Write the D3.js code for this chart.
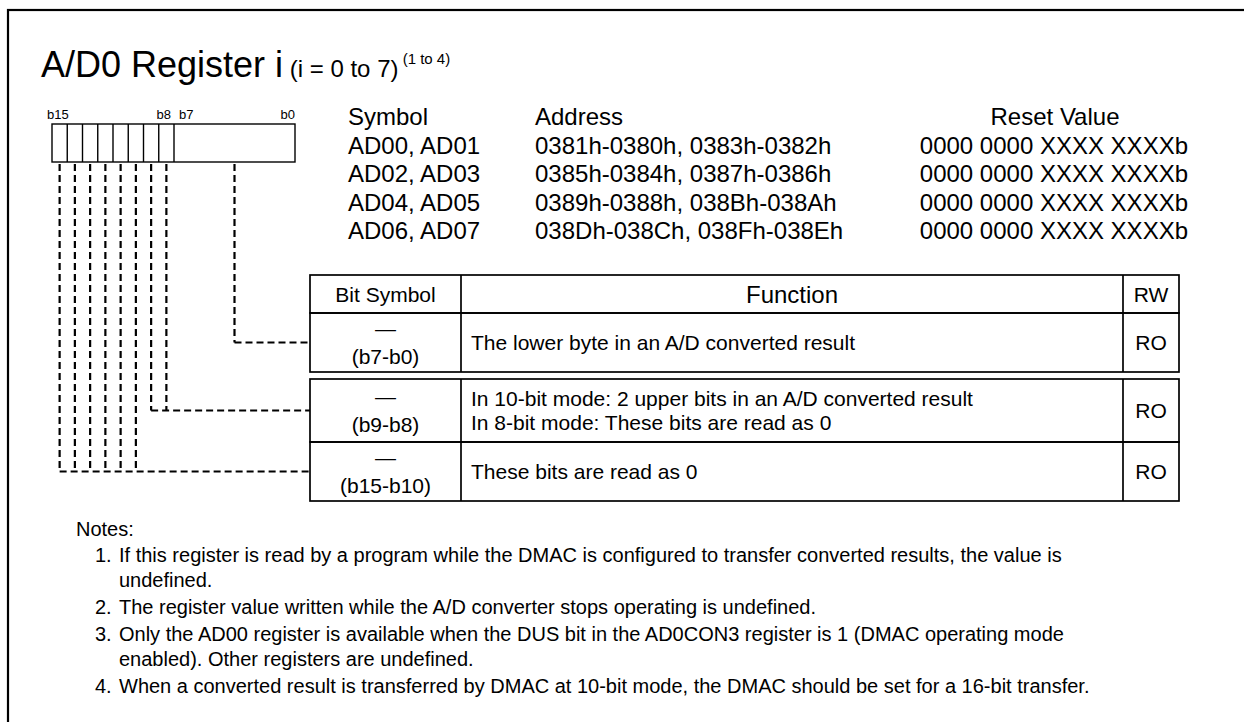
<!DOCTYPE html>
<html><head><meta charset="utf-8">
<script src="https://cdn.jsdelivr.net/npm/d3@7"></script>
<style>
body{margin:0;background:#fff}
svg{display:block}
text{font-family:"Liberation Sans", Arial, Helvetica, sans-serif; fill:#000}
</style>
</head><body>
<svg id="c" width="1244" height="722"></svg>
<script>
// ---------- data ----------
const titleMain = "A/D0 Register i";
const titleSub = "(i = 0 to 7)";
const titleNote = "(1 to 4)";
const bitLabels = [{t:"b15", bit:15, side:"left"}, {t:"b8", bit:8, side:"right"}, {t:"b7", bit:7, side:"left"}, {t:"b0", bit:0, side:"right"}];
const infoHeaders = ["Symbol", "Address", "Reset Value"];
const symbols = ["AD00, AD01", "AD02, AD03", "AD04, AD05", "AD06, AD07"];
const addresses = ["0381h-0380h, 0383h-0382h", "0385h-0384h, 0387h-0386h", "0389h-0388h, 038Bh-038Ah", "038Dh-038Ch, 038Fh-038Eh"];
const resetValues = ["0000 0000 XXXX XXXXb", "0000 0000 XXXX XXXXb", "0000 0000 XXXX XXXXb", "0000 0000 XXXX XXXXb"];
const tableHeaders = ["Bit Symbol", "Function", "RW"];
const fieldBits = [[7, 0], [9, 8], [15, 10]];
const fieldSymbols = ["\u2014", "\u2014", "\u2014"];
const fieldFunctions = [
  ["The lower byte in an A/D converted result"],
  ["In 10-bit mode: 2 upper bits in an A/D converted result", "In 8-bit mode: These bits are read as 0"],
  ["These bits are read as 0"]
];
const fieldRW = ["RO", "RO", "RO"];
const notesLabel = "Notes:";
const notes = [
  ["If this register is read by a program while the DMAC is configured to transfer converted results, the value is", "undefined."],
  ["The register value written while the A/D converter stops operating is undefined."],
  ["Only the AD00 register is available when the DUS bit in the AD0CON3 register is 1 (DMAC operating mode", "enabled). Other registers are undefined."],
  ["When a converted result is transferred by DMAC at 10-bit mode, the DMAC should be set for a 16-bit transfer."]
];

// ---------- layout ----------
const svg = d3.select("#c");
const L = {
  boxL: 52, boxSplit: 174, boxR: 295, boxT: 124, boxB: 162,
  tblX: [310, 461, 1123, 1179],
  headT: 275, headB: 313,
  rowTops: [313, 379, 442], rowBots: [372, 442, 501],
  info: 24, tbl: 21, note: 20
};

// frame
svg.append("rect").attr("x", 8).attr("y", 10).attr("width", 1300).attr("height", 800)
  .attr("fill", "none").attr("stroke", "#000").attr("stroke-width", 2.2);

// title
const t = svg.append("text").attr("x", 41).attr("y", 77);
t.append("tspan").attr("font-size", 36).text(titleMain);
t.append("tspan").attr("font-size", 24).text(" " + titleSub);
t.append("tspan").attr("font-size", 15).attr("dy", -13).text(" " + titleNote);

// bit scale (upper byte individual bits)
const bitX = d3.scaleLinear().domain([15.5, 7.5]).range([L.boxL, L.boxSplit]);
const bitCenter = b => b >= 8 ? bitX(b) : (L.boxSplit + L.boxR) / 2;

// register box
const reg = svg.append("g").attr("stroke", "#000").attr("stroke-width", 1.4).attr("fill", "none");
reg.append("rect").attr("x", L.boxL).attr("y", L.boxT).attr("width", L.boxR - L.boxL).attr("height", L.boxB - L.boxT);
reg.selectAll("line").data(d3.range(15, 7, -1)).join("line")
  .attr("x1", d => bitX(d - 0.5)).attr("x2", d => bitX(d - 0.5))
  .attr("y1", L.boxT).attr("y2", L.boxB);

svg.selectAll("text.bl").data(bitLabels).join("text").attr("class", "bl")
  .attr("font-size", 13)
  .attr("x", d => d.bit >= 8 ? (d.side === "left" ? bitX(d.bit + 0.5) - 5 : bitX(d.bit - 0.5) - 3) : (d.side === "left" ? L.boxSplit + 5 : L.boxR))
  .attr("text-anchor", d => d.side === "left" ? "start" : "end")
  .attr("y", L.boxT - 5).text(d => d.t);

// info block
const infoX = [348, 535, 1055];
const infoY = d3.scaleLinear().domain([0, 1]).range([125, 153.5]);
svg.selectAll("text.ih").data(infoHeaders).join("text").attr("class", "ih")
  .attr("font-size", L.info).attr("x", (d, i) => infoX[i]).attr("y", infoY(0))
  .attr("text-anchor", (d, i) => i === 2 ? "middle" : "start").text(d => d);
svg.selectAll("text.sy").data(symbols).join("text").attr("class", "sy")
  .attr("font-size", L.info).attr("x", infoX[0]).attr("y", (d, i) => infoY(i + 1)).text(d => d);
svg.selectAll("text.ad").data(addresses).join("text").attr("class", "ad")
  .attr("font-size", L.info).attr("x", infoX[1]).attr("y", (d, i) => infoY(i + 1)).text(d => d);
svg.selectAll("text.rv").data(resetValues).join("text").attr("class", "rv")
  .attr("font-size", L.info).attr("x", 1188).attr("text-anchor", "end").attr("y", (d, i) => infoY(i + 1)).text(d => d);

// table
const tg = svg.append("g").attr("stroke", "#000").attr("stroke-width", 1.7).attr("fill", "none");
const boxes = [[L.headT, L.headB]].concat(L.rowTops.map((v, i) => [v, L.rowBots[i]]));
boxes.forEach(([y0, y1]) => {
  tg.append("rect").attr("x", L.tblX[0]).attr("y", y0).attr("width", L.tblX[3] - L.tblX[0]).attr("height", y1 - y0);
  [1, 2].forEach(k => tg.append("line").attr("x1", L.tblX[k]).attr("x2", L.tblX[k]).attr("y1", y0).attr("y2", y1));
});
const colMid = [ (L.tblX[0] + L.tblX[1]) / 2, (L.tblX[1] + L.tblX[2]) / 2, (L.tblX[2] + L.tblX[3]) / 2 ];
svg.selectAll("text.th").data(tableHeaders).join("text").attr("class", "th")
  .attr("font-size", (d, i) => i === 1 ? 24 : L.tbl).attr("x", (d, i) => colMid[i]).attr("y", (d, i) => i === 1 ? 303 : 302)
  .attr("text-anchor", "middle").text(d => d);

const rowMid = (i) => (L.rowTops[i] + L.rowBots[i]) / 2;
fieldBits.forEach((bits, i) => {
  const m = rowMid(i);
  svg.append("text").attr("font-size", L.tbl).attr("x", colMid[0]).attr("y", m - 7).attr("text-anchor", "middle").text(fieldSymbols[i]);
  svg.append("text").attr("font-size", L.tbl).attr("x", colMid[0]).attr("y", m + 21).attr("text-anchor", "middle").text("(b" + bits[0] + "-b" + bits[1] + ")");
  const lines = fieldFunctions[i];
  lines.forEach((ln, k) => {
    svg.append("text").attr("font-size", L.tbl).attr("x", L.tblX[1] + 10)
      .attr("y", m + 7 + (k - (lines.length - 1) / 2) * 24).text(ln);
  });
  svg.append("text").attr("font-size", L.tbl).attr("x", colMid[2]).attr("y", m + 7).attr("text-anchor", "middle").text(fieldRW[i]);
});

// connectors
const cg = svg.append("g").attr("stroke", "#000").attr("stroke-width", 2.2).attr("fill", "none").attr("stroke-dasharray", "7,4");
fieldBits.forEach((bits, i) => {
  const m = rowMid(i);
  const xs = bits[1] >= 8 ? d3.range(bits[0], bits[1] - 1, -1).map(bitCenter) : [bitCenter(0)];
  xs.forEach(x => cg.append("path").attr("d", `M${x},${L.boxB + 2}V${m}`));
  cg.append("path").attr("d", `M${d3.min(xs)},${m}H${L.tblX[0]}`);
});

// notes
svg.append("text").attr("font-size", L.note).attr("x", 76).attr("y", 536).text(notesLabel);
let ny = 562;
notes.forEach((lines, i) => {
  svg.append("text").attr("font-size", L.note).attr("x", 95).attr("y", ny).text((i + 1) + ".");
  lines.forEach((ln, k) => {
    svg.append("text").attr("font-size", L.note).attr("x", 119).attr("y", ny).text(ln);
    ny += 25;
  });
  ny += 2;
});
</script>
</body></html>
